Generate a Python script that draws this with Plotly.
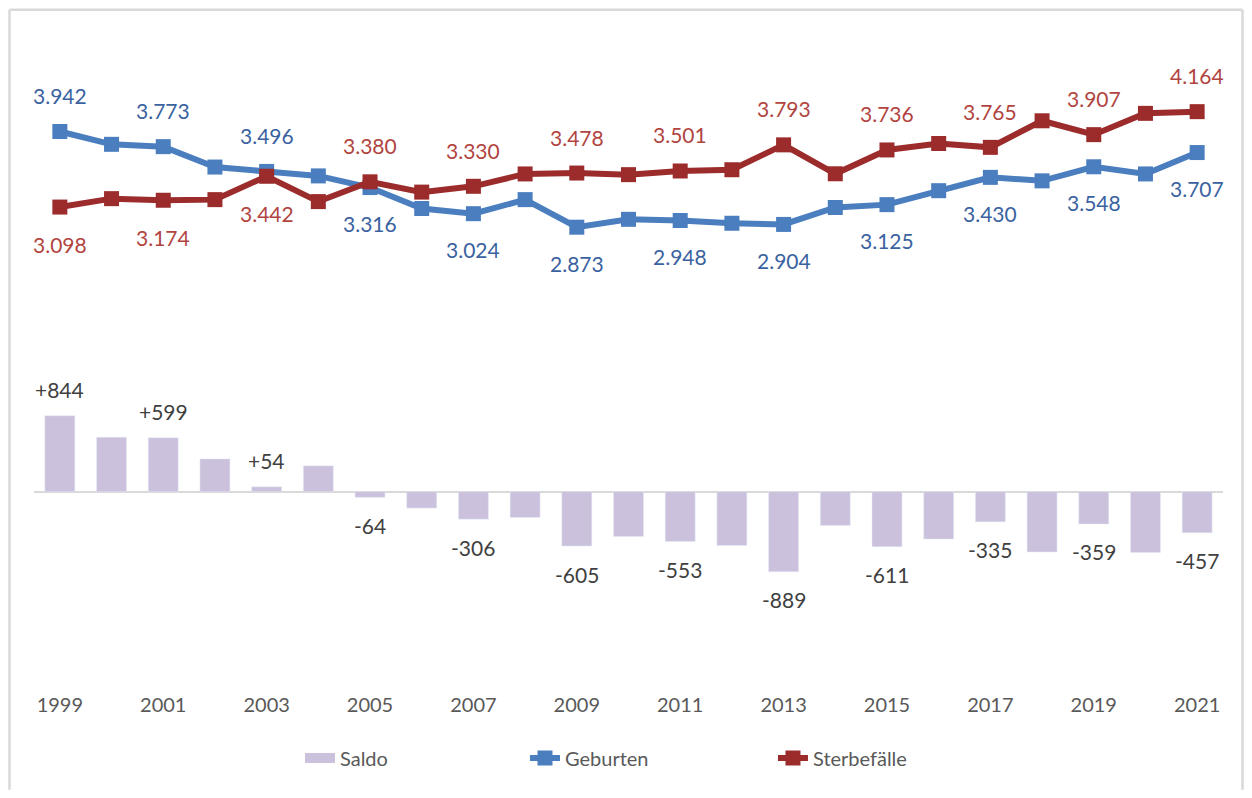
import plotly.graph_objects as go

# ---- data ----
years = list(range(1999, 2022))
geburten = [3942, 3799, 3773, 3545, 3496, 3446, 3316, 3082, 3024, 3181, 2873, 2961,
            2948, 2917, 2904, 3093, 3125, 3281, 3430, 3391, 3548, 3468, 3707]
sterbefaelle = [3098, 3192, 3174, 3181, 3442, 3159, 3380, 3265, 3330, 3468, 3478, 3460,
                3501, 3515, 3793, 3470, 3736, 3808, 3765, 4062, 3907, 4145, 4164]
saldo = [844, 606, 599, 364, 54, 287, -64, -183, -306, -287, -605, -499,
         -553, -598, -889, -377, -611, -527, -335, -671, -359, -677, -457]
tick_years = [1999, 2001, 2003, 2005, 2007, 2009, 2011, 2013, 2015, 2017, 2019, 2021]
tick_labels = [str(y) for y in tick_years]
labelled_years = tick_years

# ---- styles ----
FONT = "Lato"
BLUE_LINE = "#4A7EBF"
BLUE_TEXT = "#3A62A0"
RED_LINE = "#9C2C2C"
RED_TEXT = "#B1443F"
BAR = "#CBC1DC"
GRAY_TEXT = "#595959"
DARK_TEXT = "#404040"
FRAME = "#D9D9D9"

W, H = 1236, 782
L, R, T, B = 26, 21, 12, 90
PW, PH = W - L - R, H - T - B


def de(v):
    return f"{v:,}".replace(",", ".")


fig = go.Figure()
fig.add_trace(go.Bar(x=years, y=saldo, name="Saldo", marker_color=BAR, width=0.58,
                     yaxis="y", showlegend=False, legendgroup="saldo"))
# legend swatch for Saldo (wide flat block like the original)
fig.add_trace(go.Scatter(x=[None], y=[None], name="Saldo", mode="lines",
                         line=dict(color=BAR, width=12), legendgroup="saldo",
                         legendwidth=180, yaxis="y"))
fig.add_trace(go.Scatter(x=years, y=geburten, name="Geburten", mode="lines+markers",
                         line=dict(color=BLUE_LINE, width=6),
                         marker=dict(symbol="square", size=15, color=BLUE_LINE),
                         yaxis="y2", legendwidth=203))
fig.add_trace(go.Scatter(x=years, y=sterbefaelle, name="Sterbefälle", mode="lines+markers",
                         line=dict(color=RED_LINE, width=6),
                         marker=dict(symbol="square", size=15, color=RED_LINE),
                         yaxis="y2"))

annotations = []
for i, yr in enumerate(years):
    if yr not in labelled_years:
        continue
    g, s, d = geburten[i], sterbefaelle[i], saldo[i]
    g_up = g >= s
    annotations.append(dict(x=yr, y=g, xref="x", yref="y2", text=de(g), showarrow=False,
                            yshift=36 if g_up else -36,
                            font=dict(family=FONT, size=21, color=BLUE_TEXT)))
    annotations.append(dict(x=yr, y=s, xref="x", yref="y2", text=de(s), showarrow=False,
                            yshift=-37 if g_up else 36,
                            font=dict(family=FONT, size=21, color=RED_TEXT)))
    annotations.append(dict(x=yr, y=d, xref="x", yref="y",
                            text=(f"+{d}" if d > 0 else f"{d}"), showarrow=False,
                            yshift=26 if d > 0 else -28,
                            font=dict(family=FONT, size=21, color=DARK_TEXT)))

# frame (top, left, right) in paper coordinates
fx0, fx1 = (1.5 - L) / PW, (W - 1.5 - L) / PW
fy_top, fy_bot = (PH + T - 1.5) / PH, (PH + T - (H + 10)) / PH
frame = [
    dict(type="line", xref="paper", yref="paper", x0=fx0, x1=fx1, y0=fy_top, y1=fy_top,
         line=dict(color=FRAME, width=2.5), layer="below"),
    dict(type="line", xref="paper", yref="paper", x0=fx0, x1=fx0, y0=fy_bot, y1=fy_top,
         line=dict(color=FRAME, width=2.5), layer="below"),
    dict(type="line", xref="paper", yref="paper", x0=fx1, x1=fx1, y0=fy_bot, y1=fy_top,
         line=dict(color=FRAME, width=2.5), layer="below"),
]

fig.update_layout(
    width=W, height=H,
    margin=dict(l=L, r=R, t=T, b=B),
    paper_bgcolor="white", plot_bgcolor="white",
    font=dict(family=FONT, size=20, color=GRAY_TEXT),
    showlegend=True,
    legend=dict(orientation="h", x=0.2237, xanchor="left", y=-0.100, yanchor="middle",
                font=dict(family=FONT, size=20, color=GRAY_TEXT), traceorder="normal",
                bgcolor="rgba(0,0,0,0)"),
    xaxis=dict(range=[1998.5, 2021.5], tickmode="array", tickvals=tick_years,
               ticktext=tick_labels, showgrid=False, showline=False, zeroline=False,
               ticks="", tickfont=dict(family=FONT, size=20, color=GRAY_TEXT)),
    yaxis=dict(range=[-2215, 5241], showgrid=False, showticklabels=False, showline=False,
               zeroline=True, zerolinecolor="#D9D9D9", zerolinewidth=2),
    yaxis2=dict(range=[-2309, 5188], overlaying="y", showgrid=False, showticklabels=False,
                showline=False, zeroline=False),
    annotations=annotations,
    shapes=frame,
)

fig.write_html("out.html")
